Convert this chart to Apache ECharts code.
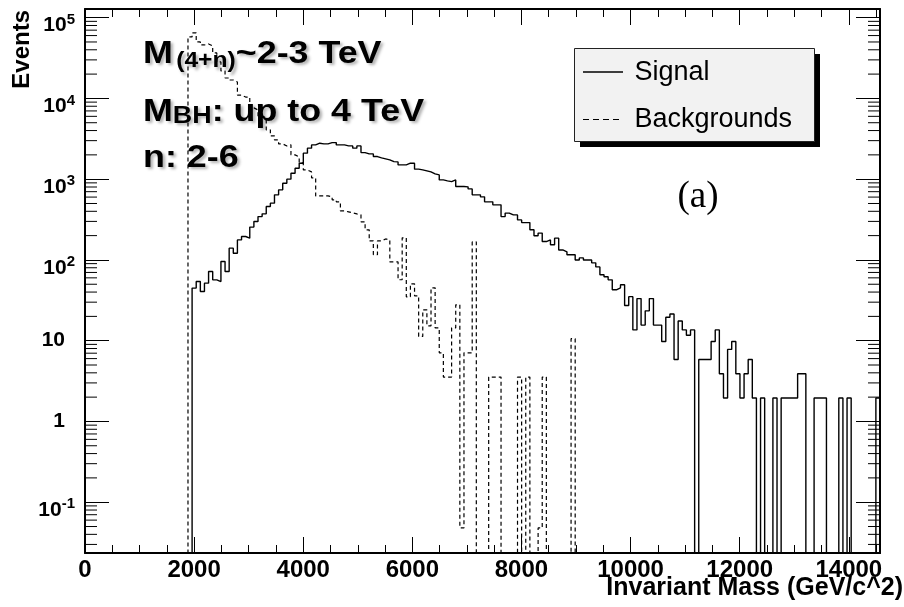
<!DOCTYPE html>
<html>
<head>
<meta charset="utf-8">
<title>Invariant Mass</title>
<script src="https://cdn.jsdelivr.net/npm/echarts@6.0.0/dist/echarts.min.js"></script>
<style>
  html, body { margin: 0; padding: 0; background: #fff; }
  #chart { width: 904px; height: 607px; }
</style>
</head>
<body>
<div id="chart"></div>
<script>
// binning shared by both histograms (GeV/c^2)
const binWidth = 75.5;
const nBins = 193;
const xMax = binWidth * nBins;

// signal, one value per bin starting at bin 26
const signalFirstBin = 26;
const signal = [
  44.8, 54, 40.6, 51.6, 71.8, 56.7, 54, 95.5, 71.8, 140,
  121, 177, 195, 186, 255, 299, 344, 372, 458, 505,
  640, 738, 892, 1000, 1186, 1368, 1578, 2099, 2421, 2657,
  2790, 2737, 2737, 2838, 2838, 2657, 2657, 2584, 2584, 2421,
  2584, 2134, 2056, 2056, 1905, 1836, 1784, 1733, 1651, 1637,
  1503, 1503, 1578, 1578, 1330, 1303, 1267, 1231, 1163, 1130,
  980, 953, 934, 980, 810, 810, 803, 758, 640, 640,
  604, 524, 524, 481, 481, 344, 380, 361, 361, 313,
  290, 290, 236, 199, 215, 169, 177, 154, 186, 133,
  126, 116, 116, 100, 106, 100, 100, 92, 82, 65.5,
  61.8, 56.7, 42.7, 45.2, 49.2, 27.3, 35.1, 13.6, 33.2, 15.6,
  23.4, 33.2, 15.6, 15.6, 9.77, 19.5, 21.4, 5.85, 17.5, 13.6,
  11.7, 13.6, 0, 5.85, 5.85, 5.85, 9.77, 13.6, 3.9, 1.95,
  7.8, 9.77, 3.9, 1.95, 3.9, 5.85, 1.95, 0, 1.95, 0,
  0, 1.95, 0, 1.95, 1.95, 1.95, 1.95, 3.9, 3.9, 0,
  0, 1.95, 1.95, 1.95, 0, 0, 0, 1.95, 0, 1.95,
  0, 0, 0, 0, 0, 0, 1.95
];

// backgrounds, one value per bin starting at bin 25
const bkgFirstBin = 25;
const backgrounds = [
  57700, 64700, 50000, 45900, 47300, 44700, 36600, 28300, 21900, 17900,
  16900, 16000, 11000, 10400, 10400, 7630, 7210, 6070, 5740, 4070,
  3430, 3060, 2730, 2580, 2660, 2000, 1890, 1590, 1300, 1230,
  1040, 621, 621, 621, 604, 555, 524, 405, 394, 383,
  372, 362, 296, 236, 172, 116, 172, 182, 177, 94.6,
  94.6, 56.8, 188, 34.9, 50.6, 35.9, 11.3, 24.1, 15.3, 45.1,
  14.4, 7.08, 3.54, 3.54, 14.4, 27.8, 0.048, 7.08, 7.08, 167,
  0, 0, 0, 3.54, 3.54, 3.54, 0, 0, 0, 0,
  3.54, 0, 3.54, 0, 0, 0.048, 3.54, 0, 0, 0,
  0, 0, 0, 10.6
];

// axes
const yMin = 0.0235;
const yMax = 128000;
// label per decade, from 10^-1 to 10^5: [base, exponent]
const yTickLabels = [["10", "-1"], ["1", ""], ["10", ""], ["10", "2"], ["10", "3"], ["10", "4"], ["10", "5"]];
const yMinorFactors = [2, 3, 4, 5, 6, 7, 8, 9];
const yDecades = [-2, -1, 0, 1, 2, 3, 4];

const font = '"Liberation Sans", Arial, Helvetica, sans-serif';

// log minor ticks 2..9 x 10^n that fall inside the frame
const yMinorTicks = [];
yDecades.forEach(function (d) {
  yMinorFactors.forEach(function (f) {
    const v = f * Math.pow(10, d);
    if (v > yMin && v < yMax) yMinorTicks.push(v);
  });
});

// step outline of a histogram, empty bins drop below the frame
function histPath(firstBin, vals) {
  const floor = yMin / 100;
  const pts = [[firstBin * binWidth, floor]];
  vals.forEach(function (v, k) {
    const lo = (firstBin + k) * binWidth;
    const y = v > 0 ? v : floor;
    pts.push([lo, y], [lo + binWidth, y]);
  });
  pts.push([(firstBin + vals.length) * binWidth, floor]);
  return pts;
}

const measureCtx = document.createElement("canvas").getContext("2d");
function textWidth(str, size) {
  measureCtx.font = "bold " + size + "px " + font;
  return measureCtx.measureText(str).width;
}

// bold annotation lines with a soft drop shadow
function annoLine(parts) {
  let x = 0;
  const out = [];
  parts.forEach(function (p) {
    if (p.gap) { x += p.gap; return; }
    out.push({
      type: "text",
      x: x,
      y: p.cy,
      style: {
        text: p.t,
        fontFamily: font,
        fontWeight: "bold",
        fontSize: p.s,
        fill: "#000",
        textAlign: "left",
        textVerticalAlign: "middle",
        textShadowColor: "rgba(0,0,0,0.3)",
        textShadowBlur: 3,
        textShadowOffsetX: 2.5,
        textShadowOffsetY: 2.5
      }
    });
    x += textWidth(p.t, p.s);
  });
  return out;
}

const annoChildren = [].concat(
  annoLine([{ t: "M", s: 32, cy: 54 }, { gap: 3 }, { t: "(4+n)", s: 22, cy: 61 }, { t: "~2-3 TeV", s: 32, cy: 54 }]),
  annoLine([{ t: "M", s: 32, cy: 112 }, { t: "BH", s: 24, cy: 116 }, { t: ": up to 4 TeV", s: 32, cy: 112 }]),
  annoLine([{ t: "n: 2-6", s: 32, cy: 158 }])
);

const tickColor = "#000";
function xAxisCfg(position, major) {
  return {
    type: "value",
    position: position,
    min: 0,
    max: xMax,
    interval: major ? 2000 : 500,
    axisLine: { show: major, onZero: false, lineStyle: { color: "#000", width: 2 } },
    axisTick: { show: true, inside: true, length: major ? 16 : 8, lineStyle: { color: tickColor, width: 1 } },
    axisLabel: {
      show: major && position === "bottom",
      showMaxLabel: false,
      margin: 5,
      color: "#000",
      fontFamily: font,
      fontWeight: "bold",
      fontSize: 24,
      formatter: function (value) { return String(Math.round(value)); }
    },
    splitLine: { show: false }
  };
}

function yAxisCfg(position) {
  return {
    type: "log",
    logBase: 10,
    position: position,
    min: yMin,
    max: yMax,
    axisLine: { show: true, onZero: false, lineStyle: { color: "#000", width: 2 } },
    axisTick: { show: true, inside: true, length: 24, lineStyle: { color: tickColor, width: 1 } },
    axisLabel: {
      show: position === "left",
      showMinLabel: false,
      showMaxLabel: false,
      margin: 10,
      formatter: function (value) {
        const lg = Math.log10(value);
        const e = Math.round(lg);
        if (Math.abs(lg - e) > 0.01 || e < -1 || e > 5) return "";
        const lab = yTickLabels[e + 1];
        if (lab[1] === "") return "{b|" + lab[0] + "}{sp| }";
        return "{be|" + lab[0] + "}{s|" + lab[1] + "}";
      },
      rich: {
        b: { fontSize: 21, fontWeight: "bold", fontFamily: font, color: "#000" },
        be: { fontSize: 21, fontWeight: "bold", fontFamily: font, color: "#000", padding: [16, 0, 0, 0] },
        s: { fontSize: 15, fontWeight: "bold", fontFamily: font, color: "#000", padding: [4, 0, 0, 0] },
        sp: { width: 10, fontSize: 15 }
      }
    },
    splitLine: { show: false }
  };
}

const chart = echarts.init(document.getElementById("chart"), null, { renderer: "canvas" });

chart.setOption({
  animation: false,
  backgroundColor: "#fff",
  grid: { left: 85, right: 24, top: 9, bottom: 54, containLabel: false, outerBoundsMode: "none" },
  xAxis: [xAxisCfg("bottom", true), xAxisCfg("bottom", false), xAxisCfg("top", true), xAxisCfg("top", false)],
  yAxis: [yAxisCfg("left"), yAxisCfg("right")],
  series: [
    {
      name: "Backgrounds",
      type: "line",
      xAxisIndex: 0,
      yAxisIndex: 0,
      data: histPath(bkgFirstBin, backgrounds),
      symbol: "none",
      clip: true,
      silent: true,
      z: 3,
      lineStyle: { color: "#000", width: 1.2, type: [4, 3] }
    },
    {
      name: "Signal",
      type: "line",
      xAxisIndex: 0,
      yAxisIndex: 0,
      data: histPath(signalFirstBin, signal),
      symbol: "none",
      clip: true,
      silent: true,
      z: 4,
      lineStyle: { color: "#000", width: 1.4, type: "solid" }
    },
    {
      // log-scale minor ticks on both y axes
      type: "custom",
      xAxisIndex: 0,
      yAxisIndex: 0,
      silent: true,
      clip: false,
      data: yMinorTicks.map(function (v) { return [0, v]; }),
      renderItem: function (params, api) {
        const v = api.value(1);
        const pl = api.coord([0, v]);
        const pr = api.coord([xMax, v]);
        const st = { stroke: tickColor, lineWidth: 1 };
        return {
          type: "group",
          children: [
            { type: "line", shape: { x1: pl[0], y1: pl[1], x2: pl[0] + 12, y2: pl[1] }, style: st },
            { type: "line", shape: { x1: pr[0] - 12, y1: pr[1], x2: pr[0], y2: pr[1] }, style: st }
          ]
        };
      }
    }
  ],
  graphic: [
    // axis titles
    {
      type: "text", x: 903, y: 588, z: 10,
      style: { text: "Invariant Mass (GeV/c^2)", fontFamily: font, fontWeight: "bold", fontSize: 25, fill: "#000", textAlign: "right", textVerticalAlign: "middle" }
    },
    {
      type: "text", x: 22.5, y: 10, rotation: Math.PI / 2, z: 10,
      style: { text: "Events", fontFamily: font, fontWeight: "bold", fontSize: 24, fill: "#000", textAlign: "right", textVerticalAlign: "middle" }
    },
    // annotation block
    { type: "group", x: 143, y: 0, scaleX: 1.12, z: 10, children: annoChildren },
    // legend box with hard shadow
    { type: "rect", z: 10, shape: { x: 580, y: 54, width: 240, height: 93 }, style: { fill: "#000" } },
    { type: "rect", z: 11, shape: { x: 574.5, y: 48.5, width: 240, height: 93 }, style: { fill: "#f2f2f2", stroke: "#222", lineWidth: 1 } },
    { type: "line", z: 12, shape: { x1: 583, y1: 72, x2: 623, y2: 72 }, style: { stroke: "#000", lineWidth: 1.4 } },
    { type: "line", z: 12, shape: { x1: 583, y1: 119.5, x2: 623, y2: 119.5 }, style: { stroke: "#000", lineWidth: 1.2, lineDash: [6, 4] } },
    {
      type: "text", x: 634.5, y: 73, z: 12,
      style: { text: "Signal", fontFamily: font, fontSize: 27, fill: "#000", textAlign: "left", textVerticalAlign: "middle" }
    },
    {
      type: "text", x: 634.5, y: 120, z: 12,
      style: { text: "Backgrounds", fontFamily: font, fontSize: 27, fill: "#000", textAlign: "left", textVerticalAlign: "middle" }
    },
    {
      type: "text", x: 698, y: 197, z: 12,
      style: { text: "(a)", fontFamily: '"Liberation Serif", "Times New Roman", serif', fontSize: 37, fill: "#000", textAlign: "center", textVerticalAlign: "middle" }
    }
  ]
});
</script>
</body>
</html>
